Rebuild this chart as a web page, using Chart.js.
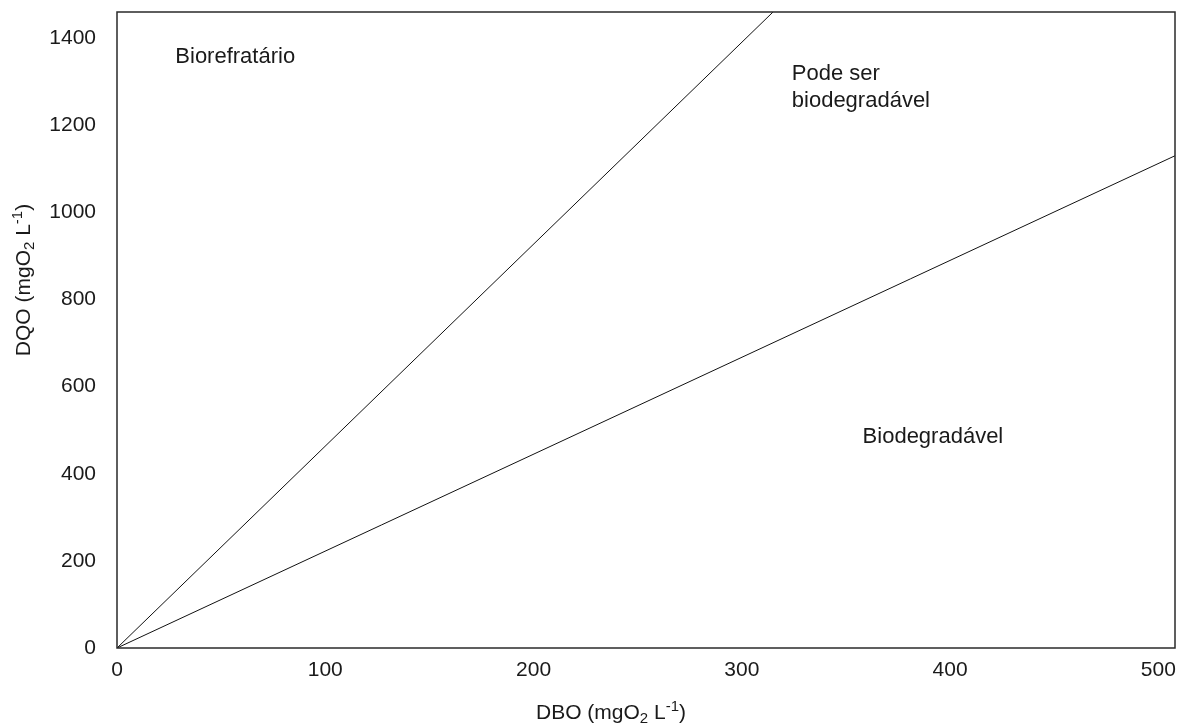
<!DOCTYPE html>
<html>
<head>
<meta charset="utf-8">
<script src="https://cdn.jsdelivr.net/npm/chart.js@4.4.0/dist/chart.umd.min.js"></script>
<style>
  html, body { margin: 0; padding: 0; background: #fff; }
  #wrap { width: 1185px; height: 723px; position: relative; }
</style>
</head>
<body>
<div id="wrap"><canvas id="chart"></canvas></div>
<script>
// dados (DBO x DQO)
const limiteBiorefratario = [{ x: 0, y: 0 }, { x: 315, y: 1460 }];
const limiteBiodegradavel = [{ x: 0, y: 0 }, { x: 508, y: 1130 }];
const xTicks = [0, 100, 200, 300, 400, 500];
const yTicks = [0, 200, 400, 600, 800, 1000, 1200, 1400];
const xMax = 508;
const yMax = 1460;

// rótulos das regiões (coordenadas em DBO/DQO)
const regionLabels = [
  { text: 'Biorefratário', x: 28, y: 1357 },
  { text: 'Pode ser', x: 324, y: 1318 },
  { text: 'biodegradável', x: 324, y: 1256 },
  { text: 'Biodegradável', x: 358, y: 484 }
];

const FONT = '"Liberation Sans", Arial, sans-serif';
const TXT = '#1a1a1a';

// desenha texto com subscrito / sobrescrito
function drawRich(ctx, parts, x, y) {
  let total = 0;
  parts.forEach(p => {
    ctx.font = (p.s ? 15 : 21) + 'px ' + FONT;
    total += ctx.measureText(p.t).width;
  });
  let cx = x - total / 2;
  parts.forEach(p => {
    ctx.font = (p.s ? 15 : 21) + 'px ' + FONT;
    const dy = p.s === -1 ? 4 : (p.s === 1 ? -8 : 0);
    ctx.fillText(p.t, cx, y + dy);
    cx += ctx.measureText(p.t).width;
  });
}

const decor = {
  id: 'decor',
  afterDraw(chart) {
    const { ctx, chartArea: a, scales } = chart;
    ctx.save();
    // moldura
    ctx.strokeStyle = '#2a2a2a';
    ctx.lineWidth = 1.5;
    ctx.strokeRect(a.left, a.top, a.right - a.left, a.bottom - a.top);

    ctx.fillStyle = TXT;
    ctx.textBaseline = 'middle';
    ctx.textAlign = 'left';
    ctx.font = '22px ' + FONT;
    regionLabels.forEach(l => {
      ctx.fillText(l.text, scales.x.getPixelForValue(l.x), scales.y.getPixelForValue(l.y));
    });

    // títulos dos eixos
    ctx.textBaseline = 'alphabetic';
    drawRich(ctx, [
      { t: 'DBO (mgO' }, { t: '2', s: -1 }, { t: ' L' }, { t: '-1', s: 1 }, { t: ')' }
    ], 611, 719);

    ctx.translate(30, 280);
    ctx.rotate(-Math.PI / 2);
    drawRich(ctx, [
      { t: 'DQO (mgO' }, { t: '2', s: -1 }, { t: ' L' }, { t: '-1', s: 1 }, { t: ')' }
    ], 0, 0);
    ctx.restore();
  }
};

new Chart(document.getElementById('chart'), {
  type: 'scatter',
  data: {
    datasets: [
      { data: limiteBiorefratario, showLine: true, borderColor: '#111', borderWidth: 1, pointRadius: 0 },
      { data: limiteBiodegradavel, showLine: true, borderColor: '#111', borderWidth: 1, pointRadius: 0 }
    ]
  },
  options: {
    responsive: true,
    maintainAspectRatio: false,
    animation: false,
    layout: { padding: { left: 0, top: 12, right: 10, bottom: 0 } },
    plugins: { legend: { display: false }, tooltip: { enabled: false } },
    scales: {
      x: {
        type: 'linear', min: 0, max: xMax,
        grid: { display: false, drawTicks: false },
        border: { display: false },
        afterBuildTicks: s => { s.ticks = xTicks.map(v => ({ value: v })); },
        afterFit: s => { s.height = 75; s.paddingLeft = 0; s.paddingRight = 0; },
        ticks: { color: TXT, font: { family: FONT, size: 21 }, padding: 10, maxRotation: 0, callback: v => String(v) }
      },
      y: {
        type: 'linear', min: 0, max: yMax,
        grid: { display: false, drawTicks: false },
        border: { display: false },
        afterBuildTicks: s => { s.ticks = yTicks.map(v => ({ value: v })); },
        afterFit: s => { s.width = 117; s.paddingTop = 0; s.paddingBottom = 0; },
        ticks: { color: TXT, font: { family: FONT, size: 21 }, padding: 21, callback: v => String(v) }
      }
    }
  },
  plugins: [decor]
});
</script>
</body>
</html>
